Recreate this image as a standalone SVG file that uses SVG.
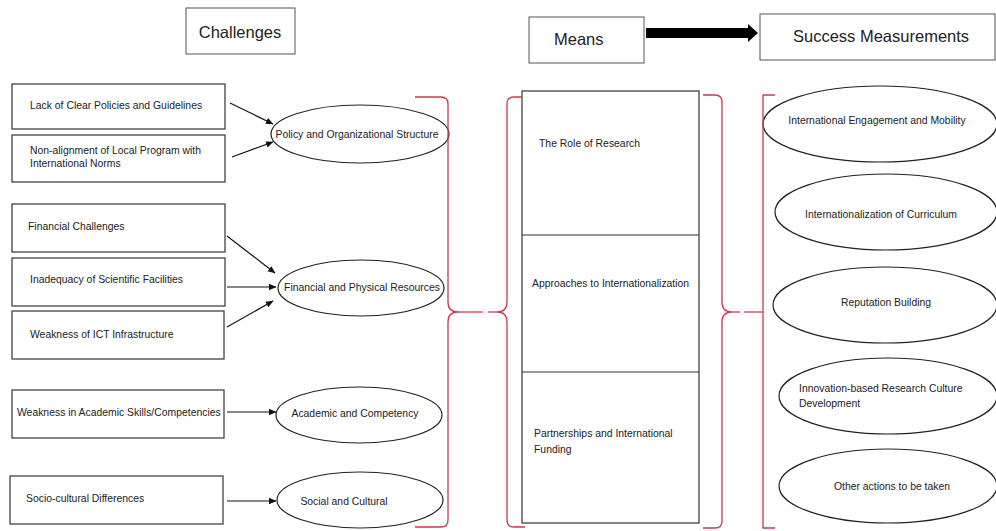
<svg xmlns="http://www.w3.org/2000/svg" width="996" height="531" viewBox="0 0 996 531">
<defs>
<style>
.box{fill:#fff;stroke:#333;stroke-width:1.2}
.hbox{fill:#fff;stroke:#555;stroke-width:1}
.ell{fill:#fff;stroke:#222;stroke-width:1.2}
.t{font-family:"Liberation Sans",Arial,sans-serif;font-size:10.4px;fill:#222}
.c{text-anchor:middle}
.h{font-family:"Liberation Sans",Arial,sans-serif;font-size:16.5px;fill:#222}
.con{stroke:#111;stroke-width:1.2;fill:none}
.br{stroke:#cc3a4c;stroke-width:1.3;fill:none}
</style>
<marker id="ah" markerWidth="8" markerHeight="8" refX="7" refY="4" orient="auto" markerUnits="userSpaceOnUse">
<path d="M0,0.8 L7.5,4 L0,7.2 Z" fill="#111"/>
</marker>
</defs>
<rect width="996" height="531" fill="#fff"/>

<g id="header-challenges"><rect class="hbox" x="186" y="8" width="109" height="46"/><text class="h c" x="240" y="38">Challenges</text></g>
<g id="header-means"><rect class="hbox" x="529" y="17" width="115" height="46"/><text class="h" x="554" y="45">Means</text></g>
<g id="header-success"><rect class="hbox" x="760" y="14" width="235" height="46"/><text class="h" x="793" y="42">Success Measurements</text></g>

<g id="c1"><rect class="box" x="12" y="84" width="213" height="45"/><text class="t" x="30" y="108.5">Lack of Clear Policies and Guidelines</text></g>
<g id="c2"><rect class="box" x="12" y="135" width="213" height="47"/><text class="t" x="30" y="153.5">Non-alignment of Local Program with</text><text class="t" x="30" y="166.5">International Norms</text></g>
<g id="c3"><rect class="box" x="12" y="204" width="213" height="48"/><text class="t" x="28" y="229.5">Financial Challenges</text></g>
<g id="c4"><rect class="box" x="12" y="258" width="213" height="48"/><text class="t" x="30" y="282.5">Inadequacy of Scientific Facilities</text></g>
<g id="c5"><rect class="box" x="12" y="311" width="212" height="48"/><text class="t" x="30" y="337.5">Weakness of ICT Infrastructure</text></g>
<g id="c6"><rect class="box" x="12" y="390" width="212" height="48"/><text class="t" x="17" y="415.5">Weakness in Academic Skills/Competencies</text></g>
<g id="c7"><rect class="box" x="10" y="476" width="213" height="48"/><text class="t" x="26" y="501.5">Socio-cultural Differences</text></g>

<g id="g1"><ellipse class="ell" cx="360" cy="134" rx="89" ry="29"/><text class="t c" x="357" y="137.5">Policy and Organizational Structure</text></g>
<g id="g2"><ellipse class="ell" cx="361" cy="288" rx="83" ry="28"/><text class="t c" x="362" y="291">Financial and Physical Resources</text></g>
<g id="g3"><ellipse class="ell" cx="359" cy="415" rx="83" ry="28"/><text class="t c" x="355" y="416.5">Academic and Competency</text></g>
<g id="g4"><ellipse class="ell" cx="360" cy="500" rx="83" ry="28"/><text class="t c" x="344" y="505">Social and Cultural</text></g>

<g id="means">
<rect class="box" x="522" y="91" width="177" height="432"/>
<line class="box" x1="522" y1="235" x2="699" y2="235"/>
<line class="box" x1="522" y1="372" x2="699" y2="372"/>
<text class="t" x="539" y="146.5">The Role of Research</text>
<text class="t" x="532" y="286.5">Approaches to Internationalization</text>
<text class="t" x="534" y="436.5">Partnerships and International</text>
<text class="t" x="534" y="452.5">Funding</text>
</g>

<g id="s1"><ellipse class="ell" cx="880" cy="124" rx="117" ry="38"/><text class="t c" x="877" y="124">International Engagement and Mobility</text></g>
<g id="s2"><ellipse class="ell" cx="886" cy="212" rx="111" ry="38"/><text class="t c" x="881" y="217.5">Internationalization of Curriculum</text></g>
<g id="s3"><ellipse class="ell" cx="885" cy="305" rx="112" ry="38"/><text class="t c" x="886" y="305.5">Reputation Building</text></g>
<g id="s4"><ellipse class="ell" cx="888" cy="396" rx="109" ry="38"/><text class="t" x="799" y="391.5">Innovation-based Research Culture</text><text class="t" x="799" y="406.5">Development</text></g>
<g id="s5"><ellipse class="ell" cx="888" cy="486" rx="109" ry="37"/><text class="t c" x="892" y="489.5">Other actions to be taken</text></g>

<g id="connectors">
<line class="con" x1="230" y1="103" x2="273" y2="124" marker-end="url(#ah)"/>
<line class="con" x1="232" y1="157" x2="273" y2="142" marker-end="url(#ah)"/>
<line class="con" x1="227" y1="236" x2="275" y2="273" marker-end="url(#ah)"/>
<line class="con" x1="227" y1="287" x2="276" y2="287" marker-end="url(#ah)"/>
<line class="con" x1="227" y1="327" x2="273" y2="301" marker-end="url(#ah)"/>
<line class="con" x1="227" y1="412" x2="276" y2="412" marker-end="url(#ah)"/>
<line class="con" x1="227" y1="501" x2="276" y2="501" marker-end="url(#ah)"/>
<path d="M646,28 H748 V24 L758,33 L748,42 V38 H646 Z" fill="#000"/>
<path class="br" d="M415,97 H441 Q448,97 448,104 V302 Q448,312 458,312 Q448,312 448,322 V520 Q448,527 441,527 H415"/>
<line class="br" x1="458" y1="312" x2="483" y2="312"/>
<path class="br" d="M522,97 H514 Q507,97 507,104 V302 Q507,312 497,312 Q507,312 507,322 V520 Q507,527 514,527 H525"/>
<line class="br" x1="488" y1="312" x2="497" y2="312"/>
<path class="br" d="M703,95 H715 Q722,95 722,102 V302 Q722,312 732,312 Q722,312 722,322 V521 Q722,528 715,528 H703"/>
<line class="br" x1="732" y1="312" x2="740" y2="312"/>
<line class="br" x1="744" y1="312" x2="763" y2="312"/>
<path class="br" d="M775,95 H763 V528 H775"/>
</g>
</svg>
